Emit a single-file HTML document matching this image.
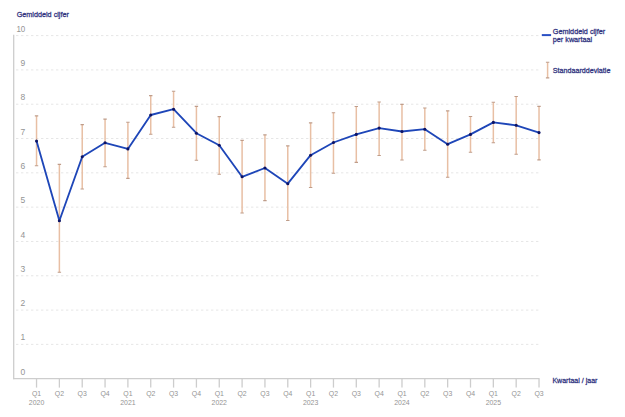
<!DOCTYPE html>
<html><head><meta charset="utf-8"><title>Gemiddeld cijfer per kwartaal</title>
<style>
html,body{margin:0;padding:0;background:#fff;}
body{width:625px;height:417px;overflow:hidden;}
svg{display:block;}
text{font-family:"Liberation Sans", sans-serif;}
.grid{stroke:#e6e6e6;stroke-width:1;stroke-dasharray:2.4 2.6;}
.ax{stroke:#cdcdcd;stroke-width:1.3;fill:none;}
.yl{font-size:8.5px;fill:#949494;text-anchor:end;}
.xl{font-size:8px;fill:#949494;text-anchor:middle;}
.err{stroke:#e8bfa4;stroke-width:1.5;fill:none;}
.cap{stroke:#bf9d8a;stroke-width:1.1;fill:none;}
.ln{stroke:#1e46b8;stroke-width:1.85;fill:none;stroke-linejoin:round;}
.dot{fill:#0c1466;}
.lg{stroke:#2a50c4;stroke-width:2;}
.nv{font-size:8px;fill:#31347f;stroke:#31347f;stroke-width:0.3;}
</style></head>
<body>
<svg width="625" height="417" viewBox="0 0 625 417">
<line x1="16" y1="344.39" x2="538.6" y2="344.39" class="grid"/>
<line x1="16" y1="310.08" x2="538.6" y2="310.08" class="grid"/>
<line x1="16" y1="275.77" x2="538.6" y2="275.77" class="grid"/>
<line x1="16" y1="241.46" x2="538.6" y2="241.46" class="grid"/>
<line x1="16" y1="207.15" x2="538.6" y2="207.15" class="grid"/>
<line x1="16" y1="172.84" x2="538.6" y2="172.84" class="grid"/>
<line x1="16" y1="138.53" x2="538.6" y2="138.53" class="grid"/>
<line x1="16" y1="104.22" x2="538.6" y2="104.22" class="grid"/>
<line x1="16" y1="69.91" x2="538.6" y2="69.91" class="grid"/>
<line x1="16" y1="35.60" x2="538.6" y2="35.60" class="grid"/>
<text x="25.3" y="374.80" class="yl">0</text>
<text x="25.3" y="340.49" class="yl">1</text>
<text x="25.3" y="306.18" class="yl">2</text>
<text x="25.3" y="271.87" class="yl">3</text>
<text x="25.3" y="237.56" class="yl">4</text>
<text x="25.3" y="203.25" class="yl">5</text>
<text x="25.3" y="168.94" class="yl">6</text>
<text x="25.3" y="134.63" class="yl">7</text>
<text x="25.3" y="100.32" class="yl">8</text>
<text x="25.3" y="66.01" class="yl">9</text>
<text x="25.3" y="31.70" class="yl" textLength="8.9" lengthAdjust="spacingAndGlyphs">10</text>
<line x1="13.7" y1="34.7" x2="13.7" y2="379.30" class="ax"/>
<line x1="13.3" y1="378.70" x2="539.6" y2="378.70" class="ax"/>
<line x1="36.54" y1="378.70" x2="36.54" y2="387.6" class="ax"/>
<text x="36.54" y="395.6" class="xl" textLength="9.2" lengthAdjust="spacingAndGlyphs">Q1</text>
<text x="36.54" y="404.8" class="xl" textLength="15.4" lengthAdjust="spacingAndGlyphs">2020</text>
<line x1="59.38" y1="378.70" x2="59.38" y2="387.6" class="ax"/>
<text x="59.38" y="395.6" class="xl" textLength="9.2" lengthAdjust="spacingAndGlyphs">Q2</text>
<line x1="82.22" y1="378.70" x2="82.22" y2="387.6" class="ax"/>
<text x="82.22" y="395.6" class="xl" textLength="9.2" lengthAdjust="spacingAndGlyphs">Q3</text>
<line x1="105.06" y1="378.70" x2="105.06" y2="387.6" class="ax"/>
<text x="105.06" y="395.6" class="xl" textLength="9.2" lengthAdjust="spacingAndGlyphs">Q4</text>
<line x1="127.90" y1="378.70" x2="127.90" y2="387.6" class="ax"/>
<text x="127.90" y="395.6" class="xl" textLength="9.2" lengthAdjust="spacingAndGlyphs">Q1</text>
<text x="127.90" y="404.8" class="xl" textLength="15.4" lengthAdjust="spacingAndGlyphs">2021</text>
<line x1="150.74" y1="378.70" x2="150.74" y2="387.6" class="ax"/>
<text x="150.74" y="395.6" class="xl" textLength="9.2" lengthAdjust="spacingAndGlyphs">Q2</text>
<line x1="173.58" y1="378.70" x2="173.58" y2="387.6" class="ax"/>
<text x="173.58" y="395.6" class="xl" textLength="9.2" lengthAdjust="spacingAndGlyphs">Q3</text>
<line x1="196.42" y1="378.70" x2="196.42" y2="387.6" class="ax"/>
<text x="196.42" y="395.6" class="xl" textLength="9.2" lengthAdjust="spacingAndGlyphs">Q4</text>
<line x1="219.26" y1="378.70" x2="219.26" y2="387.6" class="ax"/>
<text x="219.26" y="395.6" class="xl" textLength="9.2" lengthAdjust="spacingAndGlyphs">Q1</text>
<text x="219.26" y="404.8" class="xl" textLength="15.4" lengthAdjust="spacingAndGlyphs">2022</text>
<line x1="242.10" y1="378.70" x2="242.10" y2="387.6" class="ax"/>
<text x="242.10" y="395.6" class="xl" textLength="9.2" lengthAdjust="spacingAndGlyphs">Q2</text>
<line x1="264.94" y1="378.70" x2="264.94" y2="387.6" class="ax"/>
<text x="264.94" y="395.6" class="xl" textLength="9.2" lengthAdjust="spacingAndGlyphs">Q3</text>
<line x1="287.78" y1="378.70" x2="287.78" y2="387.6" class="ax"/>
<text x="287.78" y="395.6" class="xl" textLength="9.2" lengthAdjust="spacingAndGlyphs">Q4</text>
<line x1="310.62" y1="378.70" x2="310.62" y2="387.6" class="ax"/>
<text x="310.62" y="395.6" class="xl" textLength="9.2" lengthAdjust="spacingAndGlyphs">Q1</text>
<text x="310.62" y="404.8" class="xl" textLength="15.4" lengthAdjust="spacingAndGlyphs">2023</text>
<line x1="333.46" y1="378.70" x2="333.46" y2="387.6" class="ax"/>
<text x="333.46" y="395.6" class="xl" textLength="9.2" lengthAdjust="spacingAndGlyphs">Q2</text>
<line x1="356.30" y1="378.70" x2="356.30" y2="387.6" class="ax"/>
<text x="356.30" y="395.6" class="xl" textLength="9.2" lengthAdjust="spacingAndGlyphs">Q3</text>
<line x1="379.14" y1="378.70" x2="379.14" y2="387.6" class="ax"/>
<text x="379.14" y="395.6" class="xl" textLength="9.2" lengthAdjust="spacingAndGlyphs">Q4</text>
<line x1="401.98" y1="378.70" x2="401.98" y2="387.6" class="ax"/>
<text x="401.98" y="395.6" class="xl" textLength="9.2" lengthAdjust="spacingAndGlyphs">Q1</text>
<text x="401.98" y="404.8" class="xl" textLength="15.4" lengthAdjust="spacingAndGlyphs">2024</text>
<line x1="424.82" y1="378.70" x2="424.82" y2="387.6" class="ax"/>
<text x="424.82" y="395.6" class="xl" textLength="9.2" lengthAdjust="spacingAndGlyphs">Q2</text>
<line x1="447.66" y1="378.70" x2="447.66" y2="387.6" class="ax"/>
<text x="447.66" y="395.6" class="xl" textLength="9.2" lengthAdjust="spacingAndGlyphs">Q3</text>
<line x1="470.50" y1="378.70" x2="470.50" y2="387.6" class="ax"/>
<text x="470.50" y="395.6" class="xl" textLength="9.2" lengthAdjust="spacingAndGlyphs">Q4</text>
<line x1="493.34" y1="378.70" x2="493.34" y2="387.6" class="ax"/>
<text x="493.34" y="395.6" class="xl" textLength="9.2" lengthAdjust="spacingAndGlyphs">Q1</text>
<text x="493.34" y="404.8" class="xl" textLength="15.4" lengthAdjust="spacingAndGlyphs">2025</text>
<line x1="516.18" y1="378.70" x2="516.18" y2="387.6" class="ax"/>
<text x="516.18" y="395.6" class="xl" textLength="9.2" lengthAdjust="spacingAndGlyphs">Q2</text>
<line x1="539.02" y1="378.70" x2="539.02" y2="387.6" class="ax"/>
<text x="539.02" y="395.6" class="xl" textLength="9.2" lengthAdjust="spacingAndGlyphs">Q3</text>
<path d="M36.54 115.90V165.80" class="err"/>
<path d="M34.84 115.90H38.24M34.84 165.80H38.24" class="cap"/>
<path d="M59.38 164.40V272.30" class="err"/>
<path d="M57.68 164.40H61.08M57.68 272.30H61.08" class="cap"/>
<path d="M82.22 124.60V189.00" class="err"/>
<path d="M80.52 124.60H83.92M80.52 189.00H83.92" class="cap"/>
<path d="M105.06 119.10V166.80" class="err"/>
<path d="M103.36 119.10H106.76M103.36 166.80H106.76" class="cap"/>
<path d="M127.90 122.30V178.40" class="err"/>
<path d="M126.20 122.30H129.60M126.20 178.40H129.60" class="cap"/>
<path d="M150.74 95.60V134.20" class="err"/>
<path d="M149.04 95.60H152.44M149.04 134.20H152.44" class="cap"/>
<path d="M173.58 91.30V127.20" class="err"/>
<path d="M171.88 91.30H175.28M171.88 127.20H175.28" class="cap"/>
<path d="M196.42 106.40V160.30" class="err"/>
<path d="M194.72 106.40H198.12M194.72 160.30H198.12" class="cap"/>
<path d="M219.26 116.60V174.20" class="err"/>
<path d="M217.56 116.60H220.96M217.56 174.20H220.96" class="cap"/>
<path d="M242.10 140.40V213.00" class="err"/>
<path d="M240.40 140.40H243.80M240.40 213.00H243.80" class="cap"/>
<path d="M264.94 134.90V200.60" class="err"/>
<path d="M263.24 134.90H266.64M263.24 200.60H266.64" class="cap"/>
<path d="M287.78 145.90V220.50" class="err"/>
<path d="M286.08 145.90H289.48M286.08 220.50H289.48" class="cap"/>
<path d="M310.62 122.90V187.50" class="err"/>
<path d="M308.92 122.90H312.32M308.92 187.50H312.32" class="cap"/>
<path d="M333.46 112.80V173.20" class="err"/>
<path d="M331.76 112.80H335.16M331.76 173.20H335.16" class="cap"/>
<path d="M356.30 106.50V162.40" class="err"/>
<path d="M354.60 106.50H358.00M354.60 162.40H358.00" class="cap"/>
<path d="M379.14 102.00V155.50" class="err"/>
<path d="M377.44 102.00H380.84M377.44 155.50H380.84" class="cap"/>
<path d="M401.98 104.40V160.00" class="err"/>
<path d="M400.28 104.40H403.68M400.28 160.00H403.68" class="cap"/>
<path d="M424.82 108.00V150.20" class="err"/>
<path d="M423.12 108.00H426.52M423.12 150.20H426.52" class="cap"/>
<path d="M447.66 110.90V177.30" class="err"/>
<path d="M445.96 110.90H449.36M445.96 177.30H449.36" class="cap"/>
<path d="M470.50 116.50V152.20" class="err"/>
<path d="M468.80 116.50H472.20M468.80 152.20H472.20" class="cap"/>
<path d="M493.34 102.30V142.80" class="err"/>
<path d="M491.64 102.30H495.04M491.64 142.80H495.04" class="cap"/>
<path d="M516.18 96.50V154.30" class="err"/>
<path d="M514.48 96.50H517.88M514.48 154.30H517.88" class="cap"/>
<path d="M539.02 106.40V159.90" class="err"/>
<path d="M537.32 106.40H540.72M537.32 159.90H540.72" class="cap"/>
<polyline points="36.54,141.10 59.38,220.70 82.22,156.70 105.06,142.80 127.90,148.90 150.74,115.00 173.58,109.20 196.42,133.20 219.26,145.20 242.10,176.80 264.94,168.00 287.78,183.70 310.62,155.20 333.46,142.50 356.30,134.40 379.14,128.10 401.98,131.50 424.82,129.20 447.66,144.20 470.50,134.40 493.34,122.40 516.18,125.30 539.02,132.60" class="ln"/>
<circle cx="36.54" cy="141.10" r="1.55" class="dot"/>
<circle cx="59.38" cy="220.70" r="1.55" class="dot"/>
<circle cx="82.22" cy="156.70" r="1.55" class="dot"/>
<circle cx="105.06" cy="142.80" r="1.55" class="dot"/>
<circle cx="127.90" cy="148.90" r="1.55" class="dot"/>
<circle cx="150.74" cy="115.00" r="1.55" class="dot"/>
<circle cx="173.58" cy="109.20" r="1.55" class="dot"/>
<circle cx="196.42" cy="133.20" r="1.55" class="dot"/>
<circle cx="219.26" cy="145.20" r="1.55" class="dot"/>
<circle cx="242.10" cy="176.80" r="1.55" class="dot"/>
<circle cx="264.94" cy="168.00" r="1.55" class="dot"/>
<circle cx="287.78" cy="183.70" r="1.55" class="dot"/>
<circle cx="310.62" cy="155.20" r="1.55" class="dot"/>
<circle cx="333.46" cy="142.50" r="1.55" class="dot"/>
<circle cx="356.30" cy="134.40" r="1.55" class="dot"/>
<circle cx="379.14" cy="128.10" r="1.55" class="dot"/>
<circle cx="401.98" cy="131.50" r="1.55" class="dot"/>
<circle cx="424.82" cy="129.20" r="1.55" class="dot"/>
<circle cx="447.66" cy="144.20" r="1.55" class="dot"/>
<circle cx="470.50" cy="134.40" r="1.55" class="dot"/>
<circle cx="493.34" cy="122.40" r="1.55" class="dot"/>
<circle cx="516.18" cy="125.30" r="1.55" class="dot"/>
<circle cx="539.02" cy="132.60" r="1.55" class="dot"/>
<line x1="541.8" y1="35.1" x2="551.1" y2="35.1" class="lg"/>
<path d="M547.6 62.3V77.9" class="err"/>
<path d="M545.9 62.3H549.3M545.9 77.9H549.3" class="cap"/>
<text x="552.8" y="33.9" class="nv" textLength="52.4" lengthAdjust="spacingAndGlyphs">Gemiddeld cijfer</text>
<text x="552.8" y="42.4" class="nv" textLength="39.4" lengthAdjust="spacingAndGlyphs">per kwartaal</text>
<text x="552.8" y="72.6" class="nv" textLength="57.6" lengthAdjust="spacingAndGlyphs">Standaarddeviatie</text>
<text x="552.4" y="383.4" class="nv" textLength="45.0" lengthAdjust="spacingAndGlyphs">Kwartaal / jaar</text>
<text x="16.7" y="17.2" class="nv" textLength="52.2" lengthAdjust="spacingAndGlyphs">Gemiddeld cijfer</text>
</svg>
</body></html>
